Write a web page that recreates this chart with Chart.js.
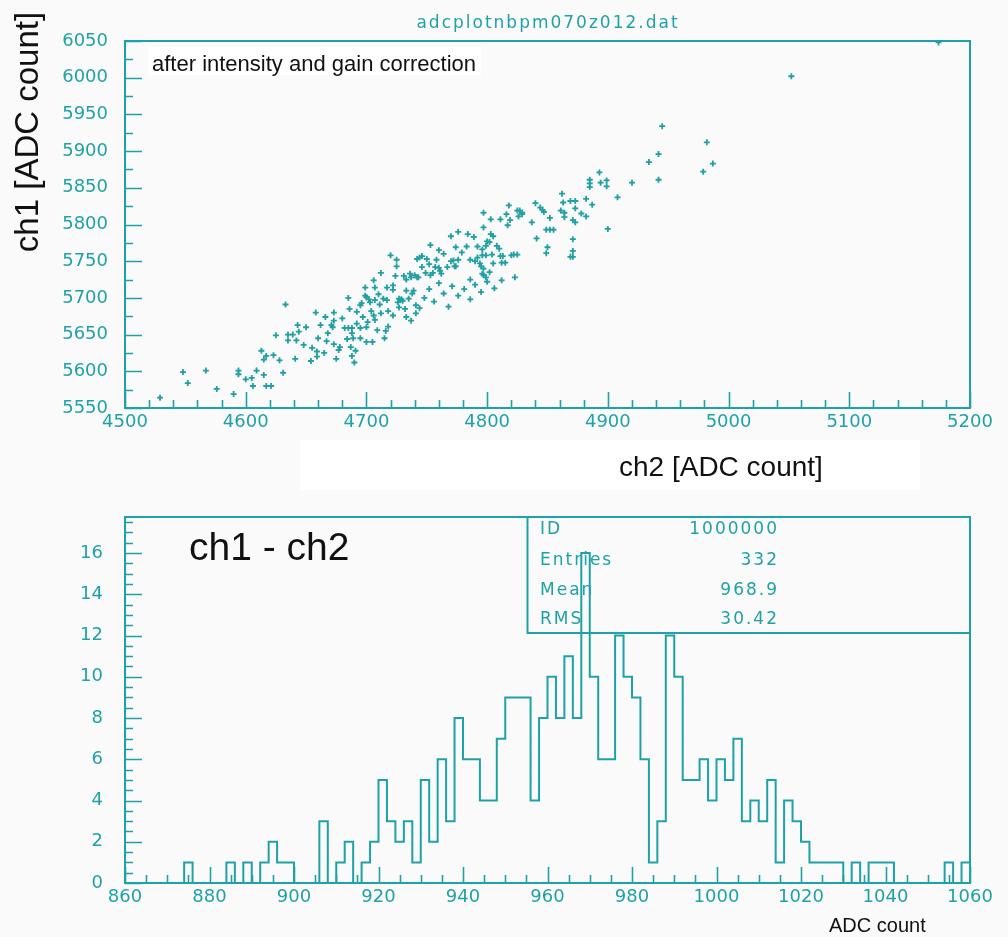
<!DOCTYPE html>
<html>
<head>
<meta charset="utf-8">
<script src="https://cdn.jsdelivr.net/npm/chart.js@4.4.0/dist/chart.umd.min.js"></script>
<style>
  html, body { margin: 0; padding: 0; background: #fafafa; }
  #wrap { position: relative; width: 1008px; height: 937px; overflow: hidden; }
  #scatterBox { position: absolute; left: 0; top: 0; width: 1008px; height: 500px; }
  #histBox { position: absolute; left: 0; top: 484px; width: 1008px; height: 453px; }
</style>
</head>
<body>
<div id="wrap">
  <div id="scatterBox"><canvas id="scatterChart"></canvas></div>
  <div id="histBox"><canvas id="histChart"></canvas></div>
</div>
<script>
// ---- data ----
const scatterTitle = 'adcplotnbpm070z012.dat';
const scatterNote = 'after intensity and gain correction';
const scatterXTitle = 'ch2 [ADC count]';
const scatterYTitle = 'ch1 [ADC count]';

// ch2 (x) and ch1 (y) of each event
const ch2Values = [
  4529, 4548, 4552, 4567, 4576, 4590, 4594, 4594, 4600, 4605, 4606, 4609, 4613, 4615, 4615, 4617,
  4617, 4621, 4623, 4625, 4628, 4631, 4633, 4635, 4635, 4639, 4642, 4641, 4643, 4644, 4648, 4654,
  4655, 4658, 4659, 4659, 4662, 4666, 4667, 4671, 4672, 4673, 4673, 4673, 4675, 4677, 4678, 4682,
  4684, 4685, 4685, 4686, 4687, 4688, 4688, 4688, 4689, 4691, 4692, 4692, 4695, 4695, 4696, 4697,
  4699, 4699, 4700, 4700, 4701, 4702, 4703, 4704, 4706, 4707, 4707, 4707, 4709, 4711, 4712, 4714,
  4715, 4716, 4717, 4717, 4718, 4720, 4722, 4722, 4722, 4724, 4725, 4725, 4726, 4727, 4727, 4728,
  4729, 4730, 4732, 4733, 4733, 4735, 4737, 4737, 4738, 4739, 4741, 4741, 4742, 4742, 4743, 4744,
  4945, 4982, 4987, 4979, 4942, 4934, 4942, 4920, 4908, 4900, 4893, 4894, 4899, 4899, 4885, 4885,
  4885, 4887, 4882, 4878, 4882, 4873, 4869, 4862, 4863, 4861, 4864, 4864, 4873, 4871, 4873, 4871,
  4871, 4869, 4871, 4852, 4849, 4852, 4855, 4850, 4849, 4841, 4837, 4840, 4844, 4846, 4847, 4827,
  4829, 4829, 4826, 4825, 4818, 4819, 4817, 4816, 4811, 4803, 4797, 4797, 4803, 4805, 4802, 4800,
  4799, 4808, 4810, 4796, 4796, 4799, 4804, 4805, 4811, 4813, 4812, 4815, 4820, 4822, 4825, 4823,
  4789, 4784, 4776, 4770, 4774, 4760, 4753, 4746, 4744, 4750, 4757, 4760, 4767, 4770, 4772, 4773,
  4774, 4776, 4786, 4790, 4792, 4795, 4794, 4797, 4802, 4799, 4786, 4796, 4797, 4762, 4761, 4755,
  4749, 4753, 4736, 4731, 4740,
  4748, 4752, 4756, 4760, 4764, 4768, 4771, 4776, 4781, 4786, 4790, 4795, 4800, 4806, 4812, 4746,
  4752, 4758, 4764, 4779, 4783, 4792, 4706, 4712, 4710, 4695, 4680, 4668, 4650, 4660, 4700, 4733,
  4718, 4705, 4690, 4665,
  5052, 5174
];
const ch1Values = [
  5564, 5599, 5584, 5601, 5576, 5569, 5601, 5596, 5589, 5591, 5580, 5601, 5628, 5595, 5616, 5621,
  5580, 5580, 5622, 5649, 5615, 5598, 5691, 5650, 5642, 5650, 5642, 5617, 5663, 5654, 5636, 5614,
  5632, 5680, 5627, 5620, 5663, 5674, 5641, 5663, 5660, 5680, 5669, 5637, 5617, 5629, 5633, 5659,
  5644, 5700, 5659, 5685, 5633, 5659, 5652, 5621, 5645, 5628, 5681, 5665, 5659, 5645, 5693, 5674,
  5714, 5703, 5640, 5701, 5667, 5698, 5694, 5682, 5676, 5714, 5697, 5670, 5656, 5691, 5679, 5699,
  5645, 5655, 5714, 5697, 5661, 5758, 5717, 5711, 5676, 5730, 5752, 5743, 5694, 5699, 5687, 5697,
  5698, 5696, 5685, 5725, 5710, 5699, 5728, 5669, 5706, 5710, 5690, 5679, 5753, 5728, 5728, 5686,
  5934, 5912, 5883, 5872, 5896, 5885, 5861, 5857, 5837, 5794, 5871, 5857, 5860, 5852, 5861, 5856,
  5851, 5827, 5835, 5815, 5811, 5832, 5832, 5842, 5830, 5819, 5816, 5810, 5822, 5806, 5803, 5780,
  5764, 5756, 5756, 5809, 5793, 5793, 5793, 5769, 5761, 5781, 5803, 5829, 5823, 5820, 5817, 5819,
  5816, 5814, 5811, 5819, 5826, 5806, 5799, 5814, 5807, 5807, 5816, 5796, 5787, 5784, 5776, 5777,
  5771, 5771, 5767, 5766, 5758, 5758, 5759, 5747, 5757, 5757, 5748, 5748, 5758, 5759, 5759, 5728,
  5783, 5787, 5790, 5784, 5769, 5765, 5772, 5757, 5755, 5753, 5742, 5741, 5742, 5750, 5751, 5743,
  5743, 5752, 5752, 5750, 5755, 5743, 5747, 5740, 5735, 5728, 5725, 5733, 5731, 5733, 5737, 5734,
  5734, 5731, 5733, 5730, 5731,
  5700, 5712, 5695, 5720, 5706, 5688, 5716, 5703, 5712, 5698, 5718, 5708, 5722, 5713, 5724, 5742,
  5746, 5752, 5760, 5762, 5770, 5770, 5724, 5734, 5705, 5690, 5672, 5652, 5660, 5645, 5660, 5674,
  5682, 5640, 5612, 5625,
  6002, 6048
];

// histogram of ch1 - ch2: 100 bins of width 2 from 860 to 1060
const histLow = 860;
const histBinWidth = 2;
const histCounts = [
  0, 0, 0, 0, 0, 0, 0, 1, 0, 0,
  0, 0, 1, 0, 1, 0, 1, 2, 1, 1,
  0, 0, 0, 3, 0, 1, 2, 0, 1, 2,
  5, 3, 2, 3, 1, 5, 2, 6, 3, 8,
  6, 6, 4, 4, 7, 9, 9, 9, 4, 8,
  10, 8, 11, 8, 16, 10, 6, 6, 12, 10,
  9, 6, 1, 3, 12, 10, 5, 5, 6, 4,
  6, 5, 7, 3, 4, 3, 5, 1, 4, 3,
  2, 1, 1, 1, 1, 0, 1, 0, 1, 1,
  1, 0, 0, 0, 0, 0, 0, 1, 0, 1
];
const histTitle = 'ch1 - ch2';
const histXTitle = 'ADC count';
const statLabels = ['ID', 'Entries', 'Mean', 'RMS'];
const statValues = ['1000000', '332', '968.9', '30.42'];

// ---- styling ----
const teal = '#1fa2a7';
const tealFont = '"DejaVu Sans", sans-serif';
const blackFont = '"Liberation Sans", Arial, sans-serif';

function isMultiple(v, step) {
    return Math.abs(v / step - Math.round(v / step)) < 1e-6;
}

// frame + inward ticks, PAW style
const pawFrame = {
    id: 'pawFrame',
    afterDatasetsDraw(chart, args, opts) {
        const { ctx, chartArea: a, scales: { x, y } } = chart;
        ctx.save();
        ctx.strokeStyle = teal;
        ctx.lineWidth = 1.6;
        ctx.beginPath();
        const nx = Math.round((x.max - x.min) / opts.xMinor);
        for (let i = 0; i <= nx; i++) {
            const v = x.min + i * opts.xMinor;
            const px = Math.round(x.getPixelForValue(v)) + 0.5;
            const len = isMultiple(v, opts.xMajor) ? 16 : 8;
            ctx.moveTo(px, a.bottom);
            ctx.lineTo(px, a.bottom - len);
        }
        const ny = Math.floor((y.max - y.min) / opts.yMinor + 1e-9);
        for (let i = 0; i <= ny; i++) {
            const v = y.min + i * opts.yMinor;
            const py = Math.round(y.getPixelForValue(v)) + 0.5;
            const len = isMultiple(v, opts.yMajor) ? 17 : 8;
            ctx.moveTo(a.left, py);
            ctx.lineTo(a.left + len, py);
        }
        ctx.stroke();
        ctx.lineWidth = 2;
        ctx.strokeRect(a.left, a.top, a.right - a.left, a.bottom - a.top);
        ctx.restore();
    }
};

const scatterNotes = {
    id: 'scatterNotes',
    beforeDatasetsDraw(chart) {
        const { ctx } = chart;
        ctx.save();
        // white label boxes
        ctx.fillStyle = '#ffffff';
        ctx.fillRect(148, 47, 333, 28);
        ctx.fillRect(300, 440, 620, 50);
        ctx.fillStyle = '#111';
        ctx.font = '22px ' + blackFont;
        ctx.textBaseline = 'alphabetic';
        ctx.fillText(scatterNote, 152, 71);
        ctx.font = '28px ' + blackFont;
        ctx.fillText(scatterXTitle, 619, 476);
        ctx.font = '33px ' + blackFont;
        ctx.translate(38, 132);
        ctx.rotate(-Math.PI / 2);
        ctx.textAlign = 'center';
        ctx.fillText(scatterYTitle, 0, 0);
        ctx.restore();

        ctx.save();
        ctx.fillStyle = teal;
        ctx.font = '17px ' + tealFont;
        ctx.letterSpacing = '2px';
        ctx.textAlign = 'center';
        ctx.textBaseline = 'middle';
        ctx.fillText(scatterTitle, 548, 24);
        ctx.restore();
    }
};

// the hist canvas starts at page y 484
const histNotes = {
    id: 'histNotes',
    afterDraw(chart) {
        const { ctx, chartArea: a } = chart;
        const top = 484;
        ctx.save();
        ctx.fillStyle = '#111';
        ctx.font = '39px ' + blackFont;
        ctx.textBaseline = 'alphabetic';
        ctx.fillText(histTitle, 189, 560 - top);
        ctx.font = '20px ' + blackFont;
        ctx.fillText(histXTitle, 829, 932 - top);

        // statistics box
        ctx.strokeStyle = teal;
        ctx.lineWidth = 2;
        ctx.strokeRect(527.5, a.top, a.right - 527.5, 633 - top - a.top);
        ctx.fillStyle = teal;
        ctx.font = '17px ' + tealFont;
        ctx.letterSpacing = '2px';
        ctx.textBaseline = 'middle';
        const rows = [530, 561, 591, 620];
        statLabels.forEach((label, i) => {
            ctx.textAlign = 'left';
            ctx.fillText(label, 540, rows[i] - top);
            ctx.textAlign = 'right';
            ctx.fillText(statValues[i], 779, rows[i] - top);
        });
        ctx.restore();
    }
};

const tickFont = { family: tealFont, size: 18 };

function initializeScatterChart() {
    const ctx = document.getElementById('scatterChart');
    const points = ch2Values.map((x, i) => ({ x: x, y: ch1Values[i] }));

    new Chart(ctx, {
        type: 'scatter',
        data: {
            datasets: [{
                data: points,
                pointStyle: 'cross',
                pointRadius: 3,
                borderWidth: 1.8,
                borderColor: '#22a0a4',
                backgroundColor: '#22a0a4'
            }, {
                data: points,
                pointStyle: 'circle',
                pointRadius: 1.1,
                borderWidth: 0,
                backgroundColor: '#0d3336'
            }]
        },
        options: {
            animation: false,
            responsive: true,
            maintainAspectRatio: false,
            layout: { padding: { top: 41, right: 38, left: 0, bottom: 0 } },
            plugins: {
                legend: { display: false },
                tooltip: { enabled: false },
                pawFrame: { xMinor: 20, xMajor: 100, yMinor: 25, yMajor: 50 }
            },
            scales: {
                x: {
                    type: 'linear',
                    min: 4500,
                    max: 5200,
                    grid: { display: false, drawTicks: false },
                    border: { display: false },
                    ticks: { stepSize: 100, color: teal, font: tickFont, padding: 4, maxRotation: 0, autoSkip: false,
                             callback: v => String(v) },
                    afterFit: s => { s.height = 92; }
                },
                y: {
                    min: 5550,
                    max: 6050,
                    grid: { display: false, drawTicks: false },
                    border: { display: false },
                    ticks: { stepSize: 50, color: teal, font: tickFont, padding: 17, autoSkip: false,
                             callback: v => String(v) },
                    afterFit: s => { s.width = 125; }
                }
            }
        },
        plugins: [pawFrame, scatterNotes]
    });
}

function initializeHistChart() {
    const ctx = document.getElementById('histChart');
    // one point on the left edge of each bin, plus the right edge of the last one
    const steps = histCounts.map((c, i) => ({ x: histLow + i * histBinWidth, y: c }));
    steps.push({ x: histLow + histCounts.length * histBinWidth, y: histCounts[histCounts.length - 1] });

    new Chart(ctx, {
        type: 'line',
        data: {
            datasets: [{
                data: steps,
                stepped: 'before',
                borderColor: teal,
                borderWidth: 2,
                pointRadius: 0,
                fill: false
            }]
        },
        options: {
            animation: false,
            responsive: true,
            maintainAspectRatio: false,
            layout: { padding: { top: 33, right: 38, left: 0, bottom: 0 } },
            plugins: {
                legend: { display: false },
                tooltip: { enabled: false },
                pawFrame: { xMinor: 5, xMajor: 20, yMinor: 0.5, yMajor: 2 }
            },
            scales: {
                x: {
                    type: 'linear',
                    min: 860,
                    max: 1060,
                    grid: { display: false, drawTicks: false },
                    border: { display: false },
                    ticks: { stepSize: 20, color: teal, font: tickFont, padding: 4, maxRotation: 0, autoSkip: false,
                             callback: v => String(v) },
                    afterFit: s => { s.height = 54; }
                },
                y: {
                    min: 0,
                    max: 17.75,
                    grid: { display: false, drawTicks: false },
                    border: { display: false },
                    ticks: { stepSize: 2, color: teal, font: tickFont, padding: 22, autoSkip: false,
                             callback: v => isMultiple(v, 2) ? String(v) : '' },
                    afterFit: s => { s.width = 125; }
                }
            }
        },
        plugins: [pawFrame, histNotes]
    });
}

document.addEventListener('DOMContentLoaded', function() {
    initializeScatterChart();
    initializeHistChart();
});
</script>
</body>
</html>
